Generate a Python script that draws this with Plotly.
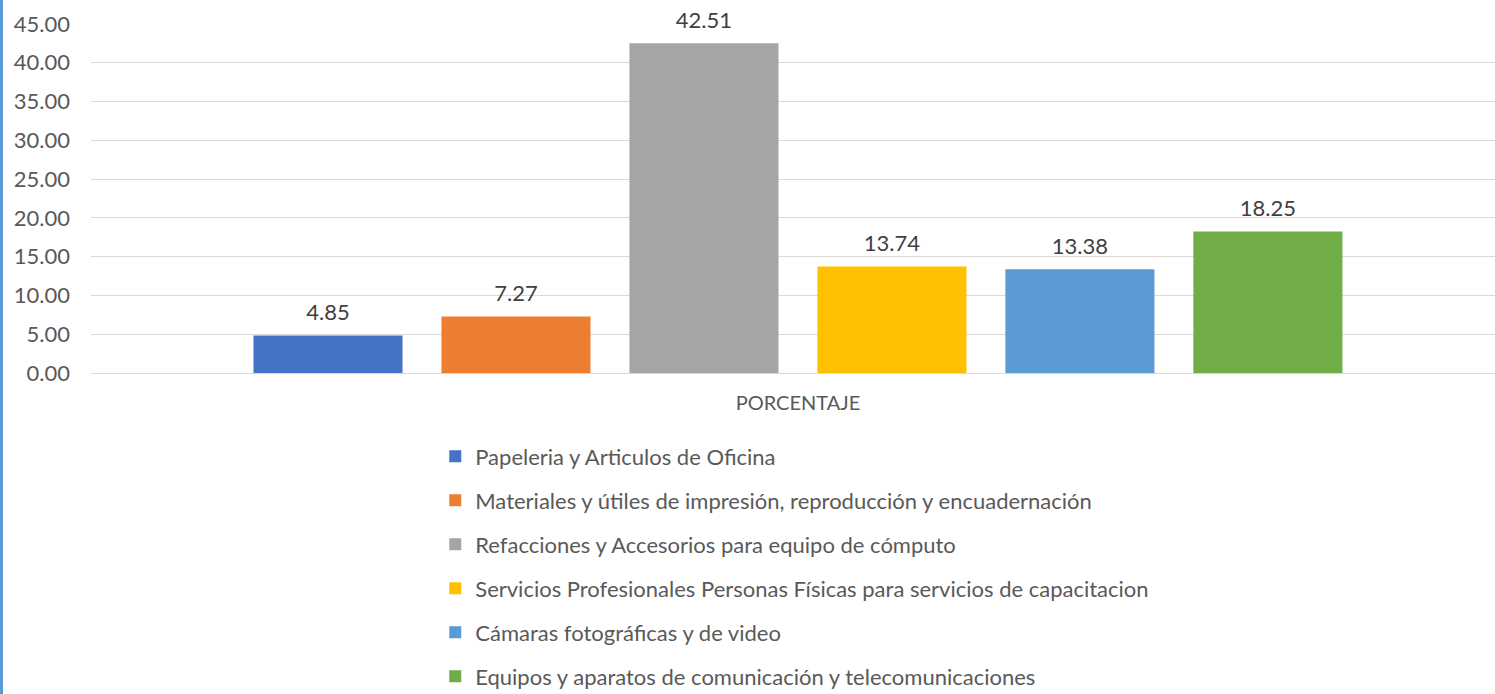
import plotly.graph_objects as go

categories = ["PORCENTAJE"]
series_names = [
    "Papeleria y Articulos de Oficina",
    "Materiales y útiles de impresión, reproducción y encuadernación",
    "Refacciones y Accesorios para equipo de cómputo",
    "Servicios Profesionales Personas Físicas para servicios de capacitacion",
    "Cámaras fotográficas y de video",
    "Equipos y aparatos de comunicación y telecomunicaciones",
]
series_values = [4.85, 7.27, 42.51, 13.74, 13.38, 18.25]
colors = ["#4472C4", "#ED7D31", "#A5A5A5", "#FFC000", "#5B9BD5", "#70AD47"]
y_ticks = [0, 5, 10, 15, 20, 25, 30, 35, 40, 45]

FONT = "Lato, Calibri, Carlito, sans-serif"
BARGAP = 0.2023

fig = go.Figure()
for i, (name, val, col) in enumerate(zip(series_names, series_values, colors)):
    fig.add_trace(go.Bar(
        x=categories, y=[val], name=name,
        marker=dict(color=col, line=dict(width=0)),
        legendgroup=f"g{i}", hoverinfo="skip",
    ))
# data labels: invisible markers grouped like the bars, text above
for i, (name, val) in enumerate(zip(series_names, series_values)):
    fig.add_trace(go.Scatter(
        x=categories, y=[val], mode="markers+text",
        marker=dict(size=14, opacity=0),
        text=[f"{val:.2f}"], textposition="top center",
        textfont=dict(family=FONT, size=22, color="#404040"),
        cliponaxis=False, showlegend=False, hoverinfo="skip",
        legendgroup=f"g{i}",
    ))

fig.update_layout(
    width=1495, height=694,
    margin=dict(l=91, r=0, t=24, b=321, autoexpand=False),
    paper_bgcolor="white", plot_bgcolor="white",
    barmode="group", bargap=BARGAP, bargroupgap=0.207,
    scattermode="group", scattergap=BARGAP,
    font=dict(family=FONT, color="#595959"),
    showlegend=True,
    legend=dict(
        orientation="v", x=0.2452, xanchor="left", y=-0.179, yanchor="top",
        font=dict(family=FONT, size=22, color="#595959"),
        traceorder="grouped", tracegroupgap=12.4, itemwidth=30,
        bgcolor="rgba(0,0,0,0)",
    ),
    xaxis=dict(
        range=[-0.5, 0.493], showgrid=False, showline=False, ticks="",
        tickfont=dict(family=FONT, size=20, color="#595959"),
        ticklabelstandoff=16, automargin=False,
    ),
    yaxis=dict(
        range=[0, 45], tickvals=y_ticks, tickformat=".2f",
        showgrid=True, gridcolor="#D9D9D9", gridwidth=1,
        zeroline=True, zerolinecolor="#D9D9D9", zerolinewidth=1,
        showline=False, ticks="",
        tickfont=dict(family=FONT, size=22, color="#595959"),
        ticklabelstandoff=20, automargin=False,
    ),
    shapes=[dict(
        type="line", xref="paper", yref="paper",
        x0=-91/1404 + 1.5/1404, x1=-91/1404 + 1.5/1404, y0=-321/349, y1=1 + 24/349,
        line=dict(color="#5B9BD5", width=3),
    )],
)

fig.write_html("out.html", post_script="document.body.style.margin='0';",
               config={"displayModeBar": False})
